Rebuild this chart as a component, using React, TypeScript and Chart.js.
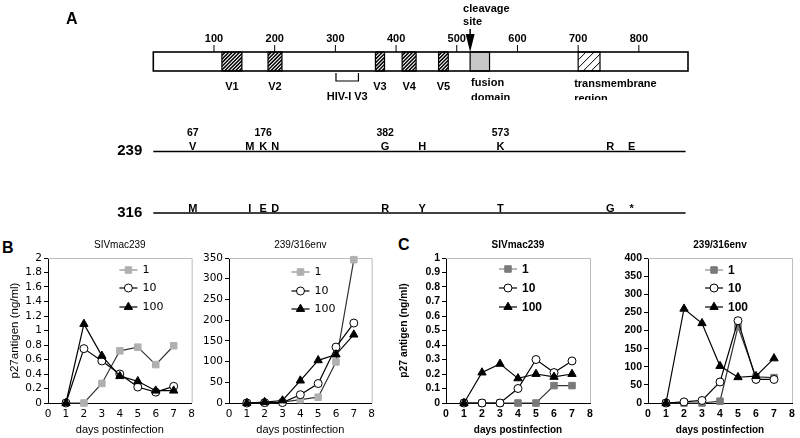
import React, { useEffect, useRef } from 'react';
import { Chart, registerables } from 'chart.js';

Chart.register(...registerables);

// ----- Panel A: env schematic (amino-acid positions) -----
const envLength = 881;
const rowLength = 877;
const envTicks = [100, 200, 300, 400, 500, 600, 700, 800];
const vNames = ['V1', 'V2', 'V3', 'V4', 'V5'];
const vStarts = [113, 189, 366, 410, 470];
const vEnds = [146, 212, 381, 433, 486];
const cleavageSite = 522;
const fusionDomain = [522, 554];
const tmRegion = [700, 736];
const hivV3Loop = [301, 338];
const mutationPositions = [65, 159, 181, 201, 382, 443, 572, 753, 788];
const residues239 = ['V', 'M', 'K', 'N', 'G', 'H', 'K', 'R', 'E'];
const residues316 = ['M', 'I', 'E', 'D', 'R', 'Y', 'T', 'G', '*'];
const numberedIndex = [0, 2, 4, 6];
const numberLabels = ['67', '176', '382', '573'];

// ----- Panels B and C -----
const days = [1, 2, 3, 4, 5, 6, 7];
const doses = ['1', '10', '100'];
const bSiv1 = [0, 0, 0.27, 0.72, 0.77, 0.53, 0.79];
const bSiv10 = [0, 0.75, 0.58, 0.4, 0.22, 0.15, 0.23];
const bSiv100 = [0, 1.09, 0.65, 0.37, 0.3, 0.17, 0.17];
const bEnv1 = [0, 0, 2, 8, 14, 99, 346];
const bEnv10 = [0, 1, 1, 20, 47, 135, 193];
const bEnv100 = [0, 2, 6, 54, 103, 117, 165];
const cSiv1 = [0, 0, 0, 0, 0, 0.12, 0.12];
const cSiv10 = [0, 0, 0, 0.1, 0.3, 0.21, 0.29];
const cSiv100 = [0, 0.21, 0.27, 0.17, 0.2, 0.18, 0.2];
const cEnv1 = [0, 0, 0, 5, 210, 72, 70];
const cEnv10 = [0, 3, 7, 58, 227, 65, 65];
const cEnv100 = [0, 260, 220, 102, 71, 74, 123];

const FAM = '"Liberation Sans", Arial, sans-serif';

function hatch(ctx: any, x: number, y: number, w: number, h: number, gap: number, lw: number) {
  ctx.save();
  ctx.beginPath();
  ctx.rect(x, y, w, h);
  ctx.clip();
  ctx.strokeStyle = '#000';
  ctx.lineWidth = lw;
  ctx.beginPath();
  for (let k = -h; k < w + h; k += gap) {
    ctx.moveTo(x + k, y + h);
    ctx.lineTo(x + k + h, y);
  }
  ctx.stroke();
  ctx.restore();
}

const envPlugin = {
  id: 'envDiagram',
  afterDraw(chart: any) {
    const { ctx } = chart;
    const xs = chart.scales.x;
    const ys = chart.scales.y;
    const X = (v: number) => xs.getPixelForValue(v);
    const top = ys.getPixelForValue(1);
    const bot = ys.getPixelForValue(0);
    const h = bot - top;
    ctx.save();
    ctx.fillStyle = '#fff';
    ctx.fillRect(X(0), top, X(envLength) - X(0), h);
    ctx.fillStyle = '#c8c8c8';
    ctx.fillRect(X(fusionDomain[0]), top, X(fusionDomain[1]) - X(fusionDomain[0]), h);
    vStarts.forEach((s, i) => hatch(ctx, X(s), top, X(vEnds[i]) - X(s), h, 3.6, 1.5));
    hatch(ctx, X(tmRegion[0]), top, X(tmRegion[1]) - X(tmRegion[0]), h, 8, 1);
    ctx.strokeStyle = '#000';
    ctx.lineWidth = 1.2;
    const boxes = [...vStarts.map((s, i) => [s, vEnds[i]]), fusionDomain, tmRegion];
    boxes.forEach(([a, b]) => ctx.strokeRect(X(a), top, X(b) - X(a), h));
    ctx.lineWidth = 1.6;
    ctx.strokeRect(X(0), top, X(envLength) - X(0), h);

    // position ticks
    ctx.lineWidth = 1;
    ctx.fillStyle = '#000';
    ctx.font = `bold 11px ${FAM}`;
    ctx.textAlign = 'center';
    ctx.textBaseline = 'alphabetic';
    envTicks.forEach((t) => {
      ctx.beginPath();
      ctx.moveTo(X(t), top - 7);
      ctx.lineTo(X(t), top);
      ctx.stroke();
      ctx.fillText(String(t), X(t), top - 10);
    });

    // cleavage arrow
    const cx = X(cleavageSite);
    ctx.lineWidth = 1.5;
    ctx.beginPath();
    ctx.moveTo(cx, top - 23);
    ctx.lineTo(cx, top - 16);
    ctx.stroke();
    ctx.beginPath();
    ctx.moveTo(cx - 4.5, top - 18);
    ctx.lineTo(cx + 4.5, top - 18);
    ctx.lineTo(cx, top);
    ctx.closePath();
    ctx.fill();
    ctx.textAlign = 'left';
    ctx.fillText('cleavage', cx - 7, top - 40.5);
    ctx.fillText('site', cx - 7, top - 27);

    // region labels
    ctx.textAlign = 'center';
    vNames.forEach((n, i) => ctx.fillText(n, X((vStarts[i] + vEnds[i]) / 2), bot + 19));
    ctx.lineWidth = 1.2;
    ctx.beginPath();
    ctx.moveTo(X(hivV3Loop[0]), bot + 2);
    ctx.lineTo(X(hivV3Loop[0]), bot + 10);
    ctx.lineTo(X(hivV3Loop[1]), bot + 10);
    ctx.lineTo(X(hivV3Loop[1]), bot + 2);
    ctx.stroke();
    ctx.fillText('HIV-I V3', X((hivV3Loop[0] + hivV3Loop[1]) / 2), bot + 28.5);

    ctx.save();
    ctx.beginPath();
    ctx.rect(0, 0, chart.width, bot + 29);
    ctx.clip();
    ctx.textAlign = 'left';
    ctx.fillText('fusion', X(fusionDomain[0]) + 1, bot + 15);
    ctx.fillText('domain', X(fusionDomain[0]) + 1, bot + 30);
    ctx.fillText('transmembrane', X(tmRegion[0]) - 4, bot + 16);
    ctx.fillText('region', X(tmRegion[0]) - 4, bot + 30.5);
    ctx.restore();

    // sequence rows
    const rows = [
      { label: '239', y: bot + 80.5, res: residues239 },
      { label: '316', y: bot + 142, res: residues316 },
    ];
    rows.forEach((row) => {
      ctx.lineWidth = 1.5;
      ctx.beginPath();
      ctx.moveTo(X(0), row.y);
      ctx.lineTo(X(rowLength), row.y);
      ctx.stroke();
      ctx.font = `bold 15px ${FAM}`;
      ctx.textAlign = 'right';
      ctx.fillText(row.label, X(0) - 11, row.y + 3.5);
      ctx.font = `bold 11px ${FAM}`;
      ctx.textAlign = 'center';
      row.res.forEach((r, i) => ctx.fillText(r, X(mutationPositions[i]), row.y - 1.5));
    });
    ctx.font = `bold 10.5px ${FAM}`;
    numberedIndex.forEach((idx, k) => {
      ctx.fillText(numberLabels[k], X(mutationPositions[idx]), rows[0].y - 15.8);
    });
    ctx.restore();
  },
};

function EnvDiagram() {
  const ref = useRef<HTMLCanvasElement | null>(null);
  useEffect(() => {
    if (!ref.current) return;
    const chart = new Chart(ref.current, {
      type: 'scatter',
      data: { datasets: [] },
      options: {
        animation: false,
        responsive: false,
        events: [],
        layout: { padding: { left: 153.3, right: 112, top: 52, bottom: 159 } },
        plugins: { legend: { display: false }, tooltip: { enabled: false } },
        scales: {
          x: { type: 'linear', display: false, min: 0, max: envLength },
          y: { type: 'linear', display: false, min: 0, max: 1 },
        },
      },
      plugins: [envPlugin],
    } as any);
    return () => chart.destroy();
  }, []);
  return (
    <canvas
      ref={ref}
      width={800}
      height={230}
      style={{ position: 'absolute', left: 0, top: 0, width: 800, height: 230, display: 'block' }}
    />
  );
}

function drawMarker(ctx: any, style: string, x: number, y: number, r: number) {
  ctx.beginPath();
  if (style === 'rect') {
    const s = r * Math.SQRT1_2;
    ctx.rect(x - s, y - s, 2 * s, 2 * s);
  } else if (style === 'circle') {
    ctx.arc(x, y, r, 0, Math.PI * 2);
  } else {
    let a = 0;
    for (let k = 0; k < 3; k++) {
      a += (2 * Math.PI) / 3;
      const px = x + Math.sin(a) * r;
      const py = y - Math.cos(a) * r;
      if (k === 0) ctx.moveTo(px, py);
      else ctx.lineTo(px, py);
    }
    ctx.closePath();
  }
  ctx.fill();
  ctx.stroke();
}

interface MiniProps {
  left: number;
  width: number;
  axisW: number;
  padRight: number;
  title: string;
  yMax: number;
  yStep: number;
  yTitle?: string;
  yTitlePad?: number;
  s1: number[];
  s10: number[];
  s100: number[];
  bold: boolean;
  grey: string;
  legendFrac: number;
  legendDy: number[];
}

function MiniChart(p: MiniProps) {
  const ref = useRef<HTMLCanvasElement | null>(null);
  useEffect(() => {
    if (!ref.current) return;
    const weight = p.bold ? 'bold' : 'normal';
    const tickFont = p.bold
      ? { family: 'Liberation Sans', size: 10.5, weight }
      : { family: 'DejaVu Sans', size: 10.5, weight };
    const titleFont = p.bold
      ? { family: 'Liberation Sans', size: 10, weight, lineHeight: 1.2 }
      : { family: 'Liberation Sans', size: 10, weight, lineHeight: 1.2 };
    const xTitleFont = p.bold
      ? { family: 'Liberation Sans', size: 10, weight, lineHeight: 1.2 }
      : { family: 'Liberation Sans', size: 11, weight, lineHeight: 1.2 };
    const yTitleFont = p.bold
      ? { family: 'Liberation Sans', size: 10.3, weight, lineHeight: 1.2 }
      : { family: 'Liberation Sans', size: 11.5, weight, lineHeight: 1.2 };
    const legendFont = p.bold ? `bold 12px ${FAM}` : '11px "DejaVu Sans", sans-serif';
    const series = [p.s1, p.s10, p.s100];
    const styles = [
      { pointStyle: 'rect', radius: 4.6, fill: p.grey, stroke: p.grey, line: '#333', legendLine: '#8a8a8a' },
      { pointStyle: 'circle', radius: 4, fill: '#fff', stroke: '#000', line: '#000', legendLine: '#000' },
      { pointStyle: 'triangle', radius: 4.8, fill: '#000', stroke: '#000', line: '#000', legendLine: '#000' },
    ];
    const datasets = doses.map((d, i) => ({
      label: d,
      data: days.map((x, j) => ({ x, y: series[i][j] })),
      borderColor: styles[i].line,
      borderWidth: 1.2,
      pointStyle: styles[i].pointStyle,
      pointRadius: styles[i].radius,
      pointHoverRadius: styles[i].radius,
      pointBackgroundColor: styles[i].fill,
      pointBorderColor: styles[i].stroke,
      pointBorderWidth: 1,
      tension: 0,
      clip: false,
      order: 2 - i,
    }));

    const framePlugin = {
      id: 'frame',
      beforeDatasetsDraw(chart: any) {
        const { ctx, chartArea: ca } = chart;
        ctx.save();
        ctx.strokeStyle = '#bdbdbd';
        ctx.lineWidth = 1;
        ctx.beginPath();
        ctx.moveTo(ca.left, ca.top + 0.5);
        ctx.lineTo(ca.right + 0.5, ca.top + 0.5);
        ctx.lineTo(ca.right + 0.5, ca.bottom);
        ctx.stroke();
        ctx.restore();
      },
    };

    const legendPlugin = {
      id: 'insideLegend',
      afterDatasetsDraw(chart: any) {
        const { ctx, chartArea: ca } = chart;
        const x0 = ca.left + p.legendFrac * (ca.right - ca.left);
        ctx.save();
        doses.forEach((d, i) => {
          const y = ca.top + p.legendDy[i];
          const st = styles[i];
          ctx.strokeStyle = st.legendLine;
          ctx.lineWidth = 1.2;
          ctx.beginPath();
          ctx.moveTo(x0, y);
          ctx.lineTo(x0 + 18, y);
          ctx.stroke();
          ctx.fillStyle = st.fill;
          ctx.strokeStyle = st.stroke;
          ctx.lineWidth = 1;
          drawMarker(ctx, st.pointStyle, x0 + 9, y, st.radius);
          ctx.fillStyle = '#000';
          ctx.font = legendFont;
          ctx.textAlign = 'left';
          ctx.textBaseline = 'middle';
          ctx.fillText(d, x0 + 23, y + 0.5);
        });
        ctx.restore();
      },
    };

    const chart = new Chart(ref.current, {
      type: 'line',
      data: { datasets },
      options: {
        animation: false,
        responsive: false,
        events: [],
        layout: { padding: { left: 0, right: p.padRight, top: 0, bottom: 0 } },
        plugins: {
          legend: { display: false },
          tooltip: { enabled: false },
          title: {
            display: true,
            text: p.title,
            fullSize: false,
            color: '#000',
            font: titleFont,
            padding: { top: 9, bottom: 7 },
          },
        },
        scales: {
          x: {
            type: 'linear',
            min: 0,
            max: 8,
            afterFit: (s: any) => {
              s.height = 35;
            },
            ticks: { stepSize: 1, color: '#000', font: tickFont, padding: 5, maxRotation: 0, autoSkip: false },
            grid: { display: true, drawOnChartArea: false, drawTicks: false },
            border: { display: true, color: '#000', width: 1 },
            title: {
              display: true,
              text: 'days postinfection',
              color: '#000',
              font: xTitleFont,
              padding: { top: 0, bottom: 1.5 },
            },
          },
          y: {
            type: 'linear',
            min: 0,
            max: p.yMax,
            afterFit: (s: any) => {
              s.width = p.axisW;
            },
            ticks: {
              stepSize: p.yStep,
              color: '#000',
              font: tickFont,
              padding: 2,
              autoSkip: false,
              callback: (v: any) => String(Math.round(Number(v) * 10) / 10),
            },
            grid: { display: true, drawOnChartArea: false, drawTicks: true, tickLength: 4, color: '#000' },
            border: { display: true, color: '#000', width: 1 },
            title: {
              display: !!p.yTitle,
              text: p.yTitle || '',
              color: '#000',
              font: yTitleFont,
              padding: { top: p.yTitlePad || 0, bottom: 0 },
            },
          },
        },
      },
      plugins: [framePlugin, legendPlugin],
    } as any);
    return () => chart.destroy();
  }, []);
  return (
    <canvas
      ref={ref}
      width={p.width}
      height={208}
      style={{ position: 'absolute', left: p.left, top: 230, width: p.width, height: 208, display: 'block' }}
    />
  );
}

const panelLetter = (left: number, top: number): React.CSSProperties => ({
  position: 'absolute',
  left,
  top,
  fontFamily: FAM,
  fontWeight: 'bold',
  fontSize: 16,
  lineHeight: 1,
  color: '#000',
});

export default function App() {
  return (
    <div
      style={{
        position: 'absolute',
        left: 0,
        top: 0,
        width: 800,
        height: 438,
        background: '#fff',
        overflow: 'hidden',
      }}
    >
      <EnvDiagram />
      <div style={panelLetter(66, 11)}>A</div>
      <div style={panelLetter(2, 240)}>B</div>
      <div style={panelLetter(398, 237)}>C</div>
      <MiniChart
        left={0}
        width={200}
        axisW={48}
        padRight={7}
        title="SIVmac239"
        yMax={2}
        yStep={0.2}
        yTitle="p27antigen (ng/ml)"
        yTitlePad={8}
        s1={bSiv1}
        s10={bSiv10}
        s100={bSiv100}
        bold={false}
        grey="#b0b0b0"
        legendFrac={0.497}
        legendDy={[12, 30, 49]}
      />
      <MiniChart
        left={200}
        width={180}
        axisW={29}
        padRight={5}
        title="239/316env"
        yMax={350}
        yStep={50}
        s1={bEnv1}
        s10={bEnv10}
        s100={bEnv100}
        bold={false}
        grey="#b0b0b0"
        legendFrac={0.438}
        legendDy={[14, 33, 51]}
      />
      <MiniChart
        left={380}
        width={220}
        axisW={66}
        padRight={10}
        title="SIVmac239"
        yMax={1}
        yStep={0.1}
        yTitle="p27 antigen (ng/ml)"
        yTitlePad={18}
        s1={cSiv1}
        s10={cSiv10}
        s100={cSiv100}
        bold={true}
        grey="#7a7a7a"
        legendFrac={0.368}
        legendDy={[11, 30, 49]}
      />
      <MiniChart
        left={600}
        width={200}
        axisW={48}
        padRight={8}
        title="239/316env"
        yMax={400}
        yStep={50}
        s1={cEnv1}
        s10={cEnv10}
        s100={cEnv100}
        bold={true}
        grey="#7a7a7a"
        legendFrac={0.396}
        legendDy={[12, 30, 49]}
      />
    </div>
  );
}
